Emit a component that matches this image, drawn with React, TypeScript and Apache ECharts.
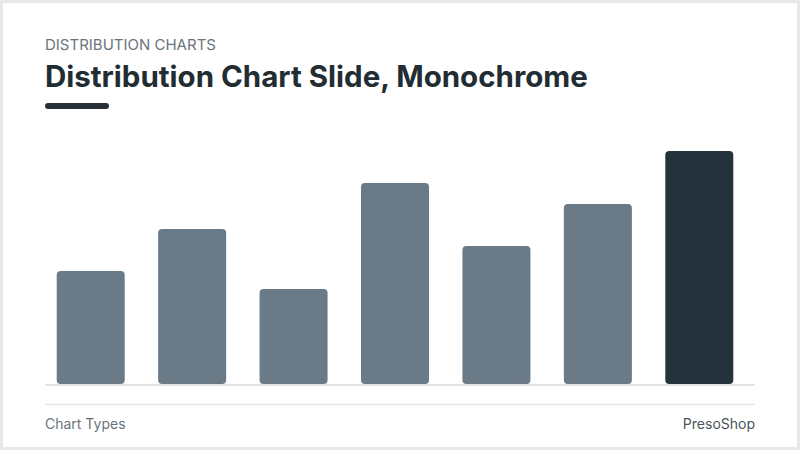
import { useEffect, useRef } from 'react'
import * as echarts from 'echarts'

const categories = ['A', 'B', 'C', 'D', 'E', 'F', 'G']
const values = [113, 155, 95, 201, 138, 180, 233]
const highlightIndex = 6

const FONT = 'Inter, "Noto Sans", sans-serif'

const App = () => {
  const chartRef = useRef<HTMLDivElement>(null)

  useEffect(() => {
    if (!chartRef.current) return
    const chart = echarts.init(chartRef.current, undefined, { renderer: 'svg' })

    chart.setOption({
      animation: false,
      backgroundColor: '#fff',
      grid: { left: 40, right: 50, top: 134, bottom: 66 },
      xAxis: {
        type: 'category',
        data: categories,
        axisLine: { show: false },
        axisTick: { show: false },
        axisLabel: { show: false }
      },
      yAxis: {
        type: 'value',
        min: 0,
        max: 250,
        show: false,
        splitLine: { show: false }
      },
      series: [
        {
          type: 'bar',
          barWidth: 68,
          z: 3,
          data: values.map((v, i) => ({
            value: v,
            itemStyle: {
              color: i === highlightIndex ? '#23323b' : '#6a7a86',
              borderRadius: [4, 4, 4, 4]
            }
          }))
        }
      ],
      graphic: [
        // cadre
        {
          type: 'rect',
          shape: { x: 1.5, y: 1.5, width: 797, height: 447 },
          style: { fill: 'none', stroke: '#e6e8ea', lineWidth: 3 },
          silent: true
        },
        {
          type: 'text',
          left: 45,
          top: 37,
          style: { text: 'DISTRIBUTION CHARTS', fill: '#6b747b', font: `400 15px ${FONT}` }
        },
        {
          type: 'text',
          left: 45,
          top: 61,
          style: { text: 'Distribution Chart Slide, Monochrome', fill: '#222d33', font: `700 29.5px ${FONT}` }
        },
        {
          type: 'rect',
          shape: { x: 45, y: 103, width: 64, height: 6, r: 3 },
          style: { fill: '#263238' }
        },
        // ligne de base
        {
          type: 'line',
          shape: { x1: 45, y1: 385, x2: 755, y2: 385 },
          style: { stroke: '#e3e6e8', lineWidth: 2 },
          z: 1
        },
        {
          type: 'line',
          shape: { x1: 45, y1: 404.5, x2: 755, y2: 404.5 },
          style: { stroke: '#e3e6e8', lineWidth: 1.5 }
        },
        {
          type: 'text',
          left: 45,
          top: 416,
          style: { text: 'Chart Types', fill: '#6b747b', font: `400 14px ${FONT}` }
        },
        {
          type: 'text',
          right: 45,
          top: 416,
          style: { text: 'PresoShop', fill: '#4a545b', font: `400 14px ${FONT}` }
        }
      ]
    })

    return () => {
      chart.dispose()
    }
  }, [])

  return (
    <div
      ref={chartRef}
      style={{ position: 'absolute', left: 0, top: 0, width: 800, height: 450, background: '#fff' }}
    />
  )
}

export default App
